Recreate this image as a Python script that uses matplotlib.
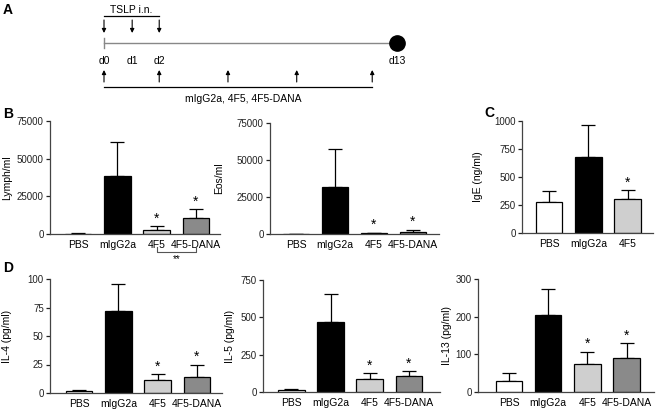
import numpy as np
import matplotlib
matplotlib.use("Agg")
import matplotlib.pyplot as plt
import matplotlib.transforms as mtransforms

plt.rcParams['font.family'] = ['Liberation Sans', 'DejaVu Sans']

# Data
groups = ["PBS", "mIgG2a", "4F5", "4F5-DANA"]
bar_colors = ["white", "black", "#cfcfcf", "#8a8a8a"]

lymph_mean = [300, 38500, 2500, 10500]
lymph_top = [400, 61000, 5000, 16500]
eos_mean = [100, 32000, 500, 1500]
eos_top = [150, 57500, 900, 3000]
ige_mean = [280, 678, 302]
ige_top = [378, 960, 383]
il4_mean = [1.5, 72, 11, 14]
il4_top = [2.2, 95.5, 16.5, 25]
il5_mean = [15, 470, 90, 110]
il5_top = [22, 655, 125, 140]
il13_mean = [28, 205, 75, 90]
il13_top = [50, 273, 107, 130]

# schematic positions on timeline (not to scale, like the original)
tslp_pos = [0, 1.25, 2.45]
ab_pos = [0, 2.45, 5.5, 8.55, 11.9]
day_pos = [0, 1.25, 2.45, 13]
day_labels = ["d0", "d1", "d2", "d13"]

W, H = 662, 412
fig = plt.figure(figsize=(W / 100, H / 100), dpi=100)


def rect(left, top, right, bottom):
    return [left / W, 1 - bottom / H, (right - left) / W, (bottom - top) / H]


def barpanel(r, means, tops, ylim, yticks, ylabel, xlim, labx, stars):
    ax = fig.add_axes(r)
    x = np.arange(len(means))
    up = np.array(tops) - np.array(means)
    ax.errorbar(x, means, yerr=[np.zeros(len(x)), up], fmt='none', ecolor='black',
                elinewidth=0.9, capsize=5, capthick=0.9, zorder=1)
    ax.bar(x, means, width=0.68, color=bar_colors[:len(x)], edgecolor='black',
           linewidth=0.9, zorder=2)
    for i in stars:
        ax.annotate('*', (x[i], tops[i]), xytext=(0, 0.5), textcoords='offset points',
                    ha='center', va='bottom', fontsize=10)
    ax.set_ylim(*ylim)
    ax.set_xlim(*xlim)
    ax.set_yticks(yticks)
    ax.set_xticks(x)
    ax.set_xticklabels(groups[:len(x)], fontsize=7.5)
    ax.tick_params(axis='x', length=0, pad=4)
    ax.tick_params(axis='y', length=3, width=0.9, labelsize=7, pad=1.5, colors='#222222')
    for s in ['top', 'right']:
        ax.spines[s].set_visible(False)
    for s in ['left', 'bottom']:
        ax.spines[s].set_linewidth(0.9)
        ax.spines[s].set_color('#444444')
    ax.set_ylabel(ylabel, fontsize=7.5)
    ax.yaxis.set_label_coords(labx, 0.5)
    return ax


# Panel A: timeline schematic
axA = fig.add_axes([0, 1 - 110 / H, 1, 110 / H])
axA.set_xlim(-104 / 22.54, (W - 104) / 22.54)
axA.set_ylim(110, 0)
axA.axis('off')
axA.text(np.mean([tslp_pos[0], tslp_pos[-1]]), 10, "TSLP i.n.", ha='center', va='center', fontsize=7.5)
axA.plot([tslp_pos[0], tslp_pos[-1]], [16, 16], color='black', lw=0.9)
for p in tslp_pos:
    axA.annotate('', xy=(p, 33), xytext=(p, 20),
                 arrowprops=dict(arrowstyle='-|>', color='black', lw=0.8, mutation_scale=6,
                                 shrinkA=0, shrinkB=0))
axA.plot([day_pos[0], day_pos[-1]], [43, 43], color='#888888', lw=1.0)
axA.plot([0, 0], [38, 48], color='#888888', lw=1.0)
axA.plot([day_pos[-1]], [43], 'o', color='black', markersize=11)
for p, l in zip(day_pos, day_labels):
    axA.text(p, 61, l, ha='center', va='center', fontsize=7.5)
for p in ab_pos:
    axA.annotate('', xy=(p, 70), xytext=(p, 82),
                 arrowprops=dict(arrowstyle='-|>', color='black', lw=0.8, mutation_scale=6,
                                 shrinkA=0, shrinkB=0))
axA.plot([ab_pos[0], ab_pos[-1]], [87, 87], color='black', lw=0.9)
axA.text(6.17, 99, "mIgG2a, 4F5, 4F5-DANA", ha='center', va='center', fontsize=7.5)

# Panel B
axB1 = barpanel(rect(50, 121, 220, 234), lymph_mean, lymph_top, (0, 75000),
                [0, 25000, 50000, 75000], "Lymph/ml", (-0.71, 3.61), -0.22, [2, 3])
tr = mtransforms.blended_transform_factory(axB1.transData, axB1.transAxes)
axB1.plot([2, 2, 3, 3], [-0.115, -0.16, -0.16, -0.115], color='#555555', lw=0.8,
          transform=tr, clip_on=False)
axB1.text(2.5, -0.18, "**", transform=tr, ha='center', va='top', fontsize=7)

barpanel(rect(270, 123, 439, 234), eos_mean, eos_top, (0, 75000),
         [0, 25000, 50000, 75000], "Eos/ml", (-0.67, 3.67), -0.27, [2, 3])

# Panel C
barpanel(rect(522, 121, 653, 233), ige_mean, ige_top, (0, 1000),
         [0, 250, 500, 750, 1000], "IgE (ng/ml)", (-0.69, 2.65), -0.3, [2])

# Panel D
barpanel(rect(50, 279, 222, 393), il4_mean, il4_top, (0, 100),
         [0, 25, 50, 75, 100], "IL-4 (pg/ml)", (-0.74, 3.64), -0.22, [2, 3])
barpanel(rect(263, 280, 440, 392), il5_mean, il5_top, (0, 750),
         [0, 250, 500, 750], "IL-5 (pg/ml)", (-0.72, 3.79), -0.16, [2, 3])
barpanel(rect(478, 279, 654, 392), il13_mean, il13_top, (0, 300),
         [0, 100, 200, 300], "IL-13 (pg/ml)", (-0.79, 3.7), -0.15, [2, 3])

# panel letters
for lab, px, py in [("A", 3, 10), ("B", 3, 114), ("C", 484, 113), ("D", 3, 268)]:
    fig.text(px / W, 1 - py / H, lab, fontsize=10, fontweight='bold', ha='left', va='center')

fig.savefig("out.png", dpi=100)
